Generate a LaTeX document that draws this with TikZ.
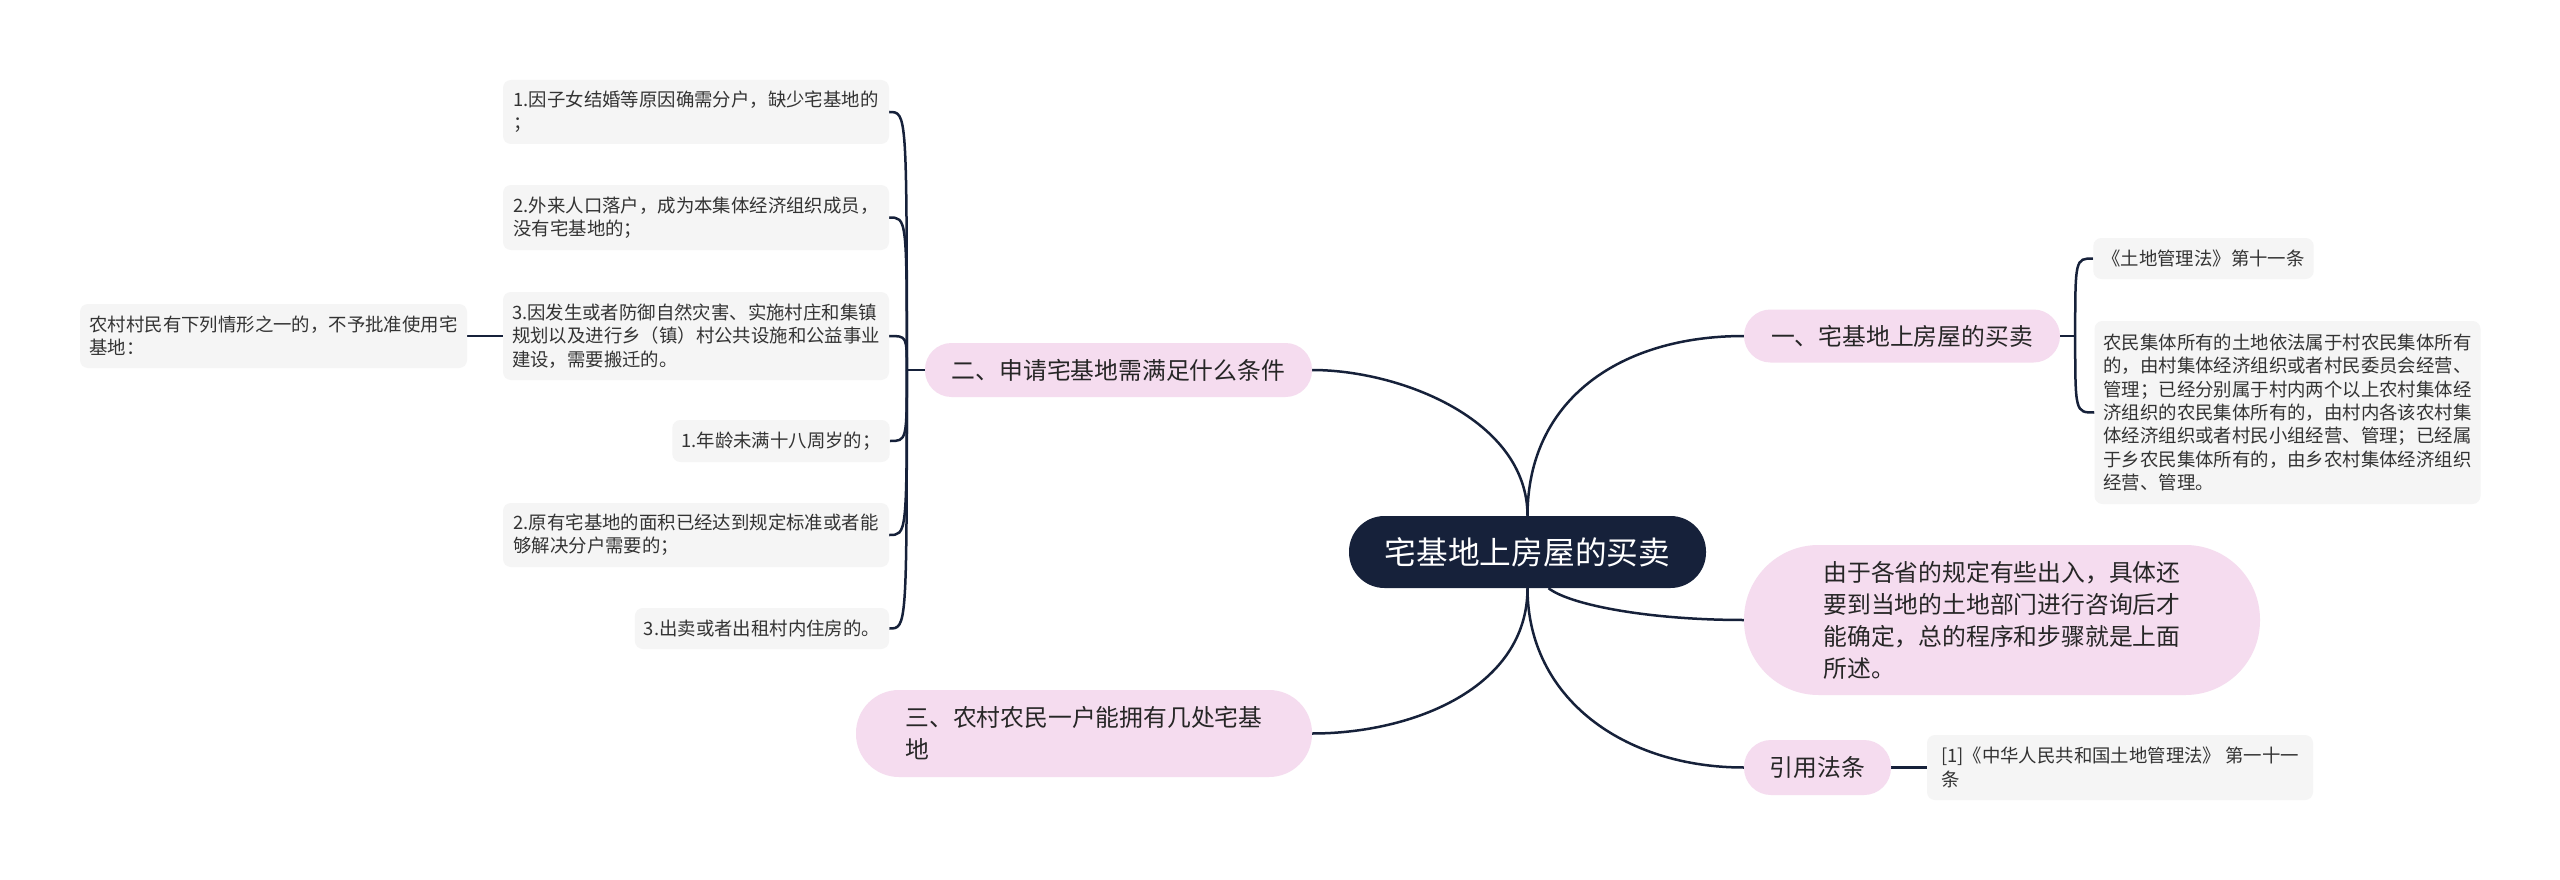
\documentclass[tikz,border=0pt]{standalone}
\usepackage{fontspec}
\setmainfont{Noto Sans CJK SC}
\usetikzlibrary{calc}
\definecolor{navy}{HTML}{16213A}
\definecolor{pinkb}{HTML}{F5DCEF}
\definecolor{leafg}{HTML}{F5F5F5}
\definecolor{leaft}{HTML}{333333}
\definecolor{brtext}{HTML}{262626}
\pgfdeclarelayer{bg}
\pgfsetlayers{bg,main}
\begin{document}
\begin{tikzpicture}[x=1pt,y=-1pt,
  leaf/.style={fill=leafg, rounded corners=8pt, inner xsep=9pt, inner ysep=3pt, align=left, text=leaft,
    font=\fontsize{18.4pt}{23.3pt}\selectfont, anchor=center},
  branch/.style={fill=pinkb, align=left, text=brtext, inner sep=0pt,
    font=\fontsize{23.8pt}{32pt}\selectfont, anchor=center},
  rootbox/.style={fill=navy, text=white, rounded corners=35.5pt, inner sep=0pt,
    font=\fontsize{31.7pt}{38pt}\selectfont, minimum width=357pt, minimum height=72pt},
  conn/.style={draw=navy, line width=2.5pt}]
\useasboundingbox (0,0) rectangle (2560,880);

% root
\node[rootbox] (root) at (1527.5,552) {宅基地上房屋的买卖};

% branches
\node[branch, rounded corners=26.5pt, minimum width=316pt, minimum height=53pt] (B1) at (1902,336) {一、宅基地上房屋的买卖};
\node[branch, rounded corners=26.5pt, minimum width=387pt, minimum height=54pt] (B2) at (1118.5,370) {二、申请宅基地需满足什么条件};
\node[branch, rounded corners=43pt, minimum width=456pt, minimum height=87pt] (B3) at (1084,733.5) {三、农村农民一户能拥有几处宅基\\地};
\node[branch, rounded corners=74.5pt, minimum width=516pt, minimum height=150pt] (B4) at (2002,620) {由于各省的规定有些出入，具体还\\要到当地的土地部门进行咨询后才\\能确定，总的程序和步骤就是上面\\所述。};
\node[branch, rounded corners=27pt, minimum width=147pt, minimum height=55pt] (B5) at (1817.5,767.5) {引用法条};

% left leaves
\node[leaf, minimum width=386pt, minimum height=64pt] (L1) at (696,112) {1.因子女结婚等原因确需分户，缺少宅基地的\\；};
\node[leaf, minimum width=386pt, minimum height=65pt] (L2) at (696,217.5) {2.外来人口落户，成为本集体经济组织成员，\\没有宅基地的；};
\node[leaf, minimum width=386pt, minimum height=88pt] (L3) at (696,336) {3.因发生或者防御自然灾害、实施村庄和集镇\\规划以及进行乡（镇）村公共设施和公益事业\\建设，需要搬迁的。};
\node[leaf, minimum width=216pt, minimum height=42pt] (L4) at (781,441) {1.年龄未满十八周岁的；};
\node[leaf, minimum width=386pt, minimum height=64pt] (L5) at (696,535) {2.原有宅基地的面积已经达到规定标准或者能\\够解决分户需要的；};
\node[leaf, minimum width=254pt, minimum height=41pt] (L6) at (762,628.5) {3.出卖或者出租村内住房的。};
\node[leaf, minimum width=387pt, minimum height=64pt] (L0) at (273.5,336) {农村村民有下列情形之一的，不予批准使用宅\\基地：};

% right leaves
\node[leaf, minimum width=217pt, minimum height=41pt] (R1) at (2203.5,258.5) {《土地管理法》第十一条};
\node[leaf, minimum width=385pt, minimum height=183pt] (R2) at (2287.5,412.5) {农民集体所有的土地依法属于村农民集体所有\\的，由村集体经济组织或者村民委员会经营、\\管理；已经分别属于村内两个以上农村集体经\\济组织的农民集体所有的，由村内各该农村集\\体经济组织或者村民小组经营、管理；已经属\\于乡农民集体所有的，由乡农村集体经济组织\\经营、管理。};
\node[leaf, minimum width=386pt, minimum height=65pt] (RL) at (2120,767.5) {[1]《中华人民共和国土地管理法》 第一十一\\条};

\begin{pgfonlayer}{bg}
\fill[white] (0,0) rectangle (2560,880);
% root connectors
\draw[conn] (root.north) .. controls ($(root.north)+(0,-96)$) and ($(B2.east)+(88,0)$) .. (B2.east);
\draw[conn] (root.north) .. controls ($(root.north)+(0,-116)$) and ($(B1.west)+(-124,0)$) .. (B1.west);
\draw[conn] (root.south) .. controls ($(root.south)+(0,100)$) and ($(B3.east)+(100,0)$) .. (B3.east);
\draw[conn] (root.south) .. controls ($(root.south)+(0,110)$) and ($(B5.west)+(-120,0)$) .. (B5.west);
\draw[conn] ($(root.south)+(21,0)$) .. controls ($(root.south)+(43,17)$) and ($(B4.west)+(-94,0)$) .. (B4.west);

% left hub
\coordinate (h2) at ($(B2.west)+(-18,0)$);
\draw[conn] (B2.west) -- (h2);
\foreach \n in {L1,L2,L3,L4,L5,L6}
  \draw[conn] (h2) .. controls (h2 |- \n.east) and (h2 |- \n.east) .. (\n.east);
\draw[conn] (L0.east) -- (L3.west);

% right hub
\coordinate (h1) at ($(B1.east)+(15,0)$);
\draw[conn] (B1.east) -- (h1);
\foreach \n in {R1,R2}
  \draw[conn] (h1) .. controls (h1 |- \n.west) and (h1 |- \n.west) .. (\n.west);

\draw[conn] (B5.east) -- (RL.west);
\end{pgfonlayer}
\end{tikzpicture}
\end{document}
